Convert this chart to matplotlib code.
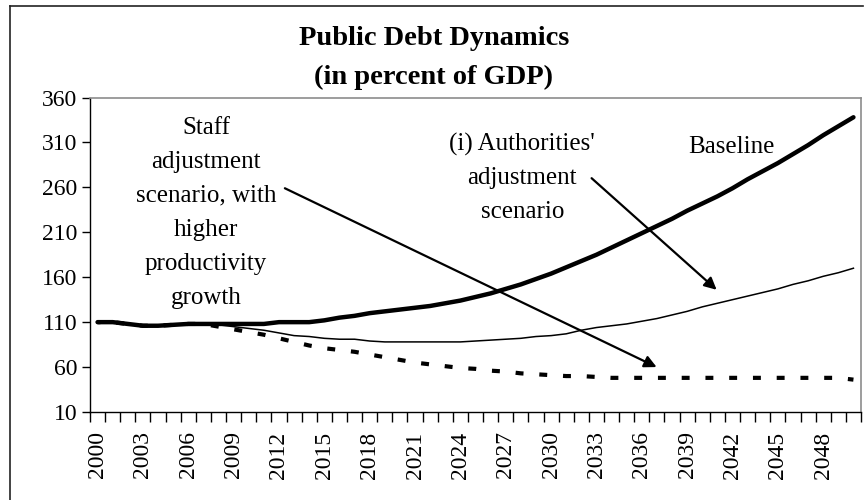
import numpy as np
import matplotlib
matplotlib.use('Agg')
from matplotlib import pyplot as plt
from matplotlib.lines import Line2D

plt.rcParams['font.family'] = ['Liberation Serif', 'DejaVu Serif']

years = np.arange(2000, 2051)

# debt paths, percent of GDP
baseline = [110, 110, 108, 106, 106, 107, 108, 108, 108, 108,
            108, 108, 110, 110, 110, 112, 115, 117, 120, 122,
            124, 126, 128, 131, 134, 138, 142, 147, 152, 158,
            164, 171, 178, 185, 193, 201, 209, 217, 225, 234,
            242, 250, 259, 269, 278, 287, 297, 307, 318, 328, 338]
authorities = [110, 110, 108, 106, 106, 107, 108, 108, 107, 105,
               103, 101, 98, 95, 94, 92, 91, 91, 89, 88,
               88, 88, 88, 88, 88, 89, 90, 91, 92, 94,
               95, 97, 101, 104, 106, 108, 111, 114, 118, 122,
               127, 131, 135, 139, 143, 147, 152, 156, 161, 165, 170]
staff = [110, 110, 108, 106, 106, 107, 108, 108, 105, 102,
         99, 96, 92, 88, 84, 81, 79, 77, 74, 71,
         68, 65, 63, 61, 59, 58, 56, 55, 53, 52,
         51, 50, 50, 49, 48, 48, 48, 48, 48, 48,
         48, 48, 48, 48, 48, 48, 48, 48, 48, 48, 46]

yticks = np.arange(10, 361, 50)
label_years = np.arange(2000, 2050, 3)

fig = plt.figure(figsize=(8.68, 5.0), dpi=100)
ax = fig.add_axes([90/868, 1-412/500, 771/868, 314.5/500])

ax.plot(years, staff, color='black', lw=3, linestyle=(1.2, (1.9, 3.8)),
        dash_capstyle='butt')
ax.plot(years, authorities, color='black', lw=1.1)
ax.plot(years, baseline, color='black', lw=3.2, solid_capstyle='round')

ax.set_xlim(1999.5, 2050.5)
ax.set_ylim(10, 360)
ax.set_yticks(yticks)
ax.set_xticks(label_years)
ax.set_xticklabels([str(y) for y in label_years], rotation=90)
ax.set_xticks(np.arange(1999.5, 2051, 1), minor=True)
ax.tick_params(axis='x', which='major', length=0, pad=14, labelsize=17)
ax.tick_params(axis='x', which='minor', length=7, width=1, direction='out')
ax.tick_params(axis='y', length=6, width=1, direction='out', pad=3, labelsize=17)

for s in ['top', 'right']:
    ax.spines[s].set_color('#8c8c8c')
    ax.spines[s].set_linewidth(1.2)
for s in ['left', 'bottom']:
    ax.spines[s].set_color('black')
    ax.spines[s].set_linewidth(1)

ax.text(2007.17, 231.6, 'Staff\nadjustment\nscenario, with\nhigher\nproductivity\ngrowth',
        ha='center', va='center', fontsize=18, linespacing=1.7)
ax.text(2028.1, 270.5, "(i) Authorities'\nadjustment\nscenario",
        ha='center', va='center', fontsize=18, linespacing=1.7)
ax.text(2041.95, 305, 'Baseline', ha='center', va='center', fontsize=18)

arrow = dict(arrowstyle='-|>', color='black', lw=1.6, mutation_scale=18,
             shrinkA=0, shrinkB=0)
ax.annotate('', xy=(2036.98, 60.0), xytext=(2012.39, 259.0), arrowprops=arrow)
ax.annotate('', xy=(2040.95, 146.0), xytext=(2032.68, 270.2), arrowprops=arrow)

fig.text(0.5, 1-58/500, 'Public Debt Dynamics\n(in percent of GDP)',
         ha='center', va='center', fontsize=20.5, fontweight='bold', linespacing=1.72)

# chart frame
fig.add_artist(Line2D([9.5/868, 9.5/868], [1-6/500, 0], transform=fig.transFigure,
                      color='#222222', lw=1.2))
fig.add_artist(Line2D([9.5/868, 863/868], [1-6/500, 1-6/500], transform=fig.transFigure,
                      color='#222222', lw=1.2))

fig.savefig('out.png', dpi=100)
